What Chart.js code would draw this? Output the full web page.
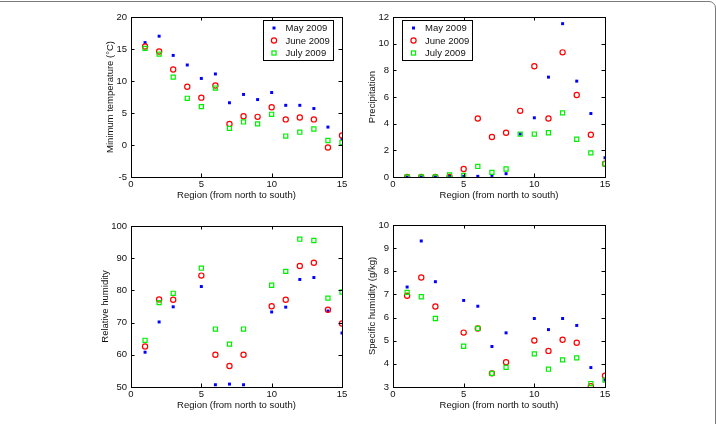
<!DOCTYPE html>
<html>
<head>
<meta charset="utf-8">
<script src="https://cdn.jsdelivr.net/npm/chart.js@4.4.1/dist/chart.umd.min.js"></script>
<style>
  html, body { margin: 0; padding: 0; background: #fff; }
  body { width: 716px; height: 424px; position: relative; overflow: hidden; }
  .frame { position: absolute; left: -20px; top: 1px; width: 736px; height: 500px;
           box-sizing: border-box; border: 1px solid #7a7a7a; border-top-right-radius: 7px; }
  canvas { position: absolute; }
</style>
</head>
<body>
<div class="frame"></div>
<canvas id="c1"></canvas>
<canvas id="c2"></canvas>
<canvas id="c3"></canvas>
<canvas id="c4"></canvas>
<script>
// region index, north to south
const regions = [1, 2, 3, 4, 5, 6, 7, 8, 9, 10, 11, 12, 13, 14, 15];
const seriesNames = ["May 2009", "June 2009", "July 2009"];

// minimum temperature (°C)
const tempMay  = [16.0, 17.0, 14.0, 12.5, 10.4, 11.1, 6.6, 7.9, 7.1, 8.2, 6.2, 6.2, 5.7, 2.8, 0.9];
const tempJune = [15.4, 14.6, 11.8, 9.1, 7.4, 9.3, 3.3, 4.5, 4.4, 5.9, 4.0, 4.3, 4.0, -0.4, 1.5];
const tempJuly = [15.1, 14.2, 10.6, 7.3, 6.0, 8.9, 2.6, 3.6, 3.3, 4.8, 1.4, 2.0, 2.5, 0.7, 0.4];

// precipitation
const precipMay  = [0, 0, 0, 0.05, 0.05, 0.05, 0.12, 0.25, 3.22, 4.44, 7.49, 11.5, 7.19, 4.76, 1.44];
const precipJune = [0, 0, 0, 0, 0.6, 4.39, 3.0, 3.32, 4.96, 8.31, 4.39, 9.35, 6.15, 3.17, 0.99];
const precipJuly = [0, 0, 0, 0.15, 0.12, 0.79, 0.35, 0.6, 3.22, 3.22, 3.32, 4.81, 2.83, 1.81, 0.99];

// relative humidity (regions 4 and 9 missing)
const rhMay  = [60.8, 70.2, 74.9, null, 81.2, 50.7, 50.9, 50.7, null, 73.3, 74.8, 83.4, 84.0, 73.6, 66.8];
const rhJune = [62.6, 77.2, 77.1, null, 84.6, 60.0, 56.5, 60.0, null, 75.1, 77.1, 87.6, 88.6, 74.0, 69.7];
const rhJuly = [64.5, 76.2, 79.1, null, 86.9, 68.0, 63.3, 68.0, null, 81.6, 85.9, 95.9, 95.5, 77.6, 79.5];

// specific humidity (g/kg)
const shMay  = [7.32, 9.31, 7.55, null, 6.74, 6.49, 4.75, 5.34, null, 5.96, 5.48, 5.96, 5.66, 3.84, 3.30];
const shJune = [6.94, 7.73, 6.48, null, 5.35, 5.53, 3.59, 4.07, null, 5.01, 4.56, 5.04, 4.91, 3.03, 3.49];
const shJuly = [7.09, 6.90, 5.96, null, 4.76, 5.53, 3.59, 3.85, null, 4.43, 3.77, 4.17, 4.26, 3.15, 3.30];

const xTicks = [0, 5, 10, 15];

Chart.defaults.font.family = '"Liberation Sans", Arial, Helvetica, sans-serif';
Chart.defaults.font.size = 9.5;
Chart.defaults.color = '#111';

const styles = [
  { pointStyle: 'rect', pointRadius: 2.1, backgroundColor: '#0000ff', borderColor: '#0000ff', borderWidth: 0 },
  { pointStyle: 'circle', pointRadius: 2.6, backgroundColor: 'rgba(0,0,0,0)', borderColor: '#ff0000', borderWidth: 1.2 },
  { pointStyle: 'rect', pointRadius: 2.9, backgroundColor: 'rgba(0,0,0,0)', borderColor: '#00ee00', borderWidth: 1.2 }
];

function points(vals) {
  return regions.map((r, i) => ({ x: r, y: vals[i] })).filter(p => p.y !== null);
}

// box around plot area + inward ticks on all four sides
const boxPlugin = {
  id: 'box',
  afterDatasetsDraw(chart) {
    const { ctx, chartArea: a, scales } = chart;
    ctx.save();
    ctx.strokeStyle = '#000';
    ctx.lineWidth = 1;
    ctx.strokeRect(Math.round(a.left) + 0.5, Math.round(a.top) + 0.5,
                   Math.round(a.right - a.left), Math.round(a.bottom - a.top));
    ctx.beginPath();
    const len = 3.5;
    scales.x.ticks.forEach(t => {
      const px = Math.round(scales.x.getPixelForValue(t.value)) + 0.5;
      ctx.moveTo(px, a.bottom); ctx.lineTo(px, a.bottom - len);
      ctx.moveTo(px, a.top); ctx.lineTo(px, a.top + len);
    });
    scales.y.ticks.forEach(t => {
      const py = Math.round(scales.y.getPixelForValue(t.value)) + 0.5;
      ctx.moveTo(a.left, py); ctx.lineTo(a.left + len, py);
      ctx.moveTo(a.right, py); ctx.lineTo(a.right - len, py);
    });
    ctx.stroke();
    ctx.restore();
  }
};

// boxed legend inside the plot area
const insideLegend = {
  id: 'insideLegend',
  afterDraw(chart, args, opts) {
    if (!opts.corner) return;
    const { ctx, chartArea: a } = chart;
    const w = 70, h = 40;
    const left = opts.corner === 'ne' ? a.right - 9.5 - w : a.left + 9;
    const top = a.top + 3;
    ctx.save();
    ctx.fillStyle = '#fff';
    ctx.fillRect(left, top, w, h);
    ctx.strokeStyle = '#000';
    ctx.lineWidth = 1;
    ctx.strokeRect(Math.round(left) + 0.5, Math.round(top) + 0.5, w, h);
    ctx.font = '9.5px "Liberation Sans", Arial, sans-serif';
    ctx.textBaseline = 'middle';
    ctx.fillStyle = '#111';
    chart.data.datasets.forEach((ds, i) => {
      const y = top + 8 + i * 12.5;
      const mx = left + 11.5;
      const r = ds.pointRadius;
      ctx.lineWidth = ds.borderWidth;
      if (ds.pointStyle === 'circle') {
        ctx.strokeStyle = ds.borderColor;
        ctx.beginPath(); ctx.arc(mx, y, r, 0, Math.PI * 2); ctx.stroke();
      } else if (ds.borderWidth === 0) {
        const s = r * Math.SQRT1_2;
        ctx.fillStyle = ds.backgroundColor;
        ctx.fillRect(mx - s, y - s, 2 * s, 2 * s);
      } else {
        const s = r * Math.SQRT1_2;
        ctx.strokeStyle = ds.borderColor;
        ctx.strokeRect(mx - s, y - s, 2 * s, 2 * s);
      }
      ctx.fillStyle = '#111';
      ctx.fillText(ds.label, left + 23, y + 0.5);
    });
    ctx.restore();
  }
};

function makePanel(id, place, area, yTitle, yMin, yMax, yStep, series, legendCorner) {
  const canvas = document.getElementById(id);
  canvas.width = area.r + 20 - place.x;
  canvas.height = area.b + 24 - place.y;
  canvas.style.left = place.x + 'px';
  canvas.style.top = place.y + 'px';

  new Chart(canvas, {
    type: 'scatter',
    data: {
      datasets: series.map((vals, i) => Object.assign({
        label: seriesNames[i],
        data: points(vals),
        order: 3 - i
      }, styles[i]))
    },
    options: {
      responsive: false,
      animation: false,
      layout: { padding: { left: 0, top: area.t - place.y, right: 20, bottom: 0 } },
      plugins: {
        legend: { display: false },
        tooltip: { enabled: false },
        insideLegend: { corner: legendCorner }
      },
      scales: {
        x: {
          type: 'linear', min: 0, max: 15,
          afterBuildTicks: s => { s.ticks = xTicks.map(v => ({ value: v })); },
          grid: { display: false, drawTicks: false },
          border: { display: false },
          ticks: { padding: 2, color: '#111' },
          title: { display: true, text: 'Region (from north to south)', padding: 0, color: '#111' },
          afterFit: s => { s.height = 24; }
        },
        y: {
          min: yMin, max: yMax,
          grid: { display: false, drawTicks: false },
          border: { display: false },
          ticks: { stepSize: yStep, padding: 4, color: '#111' },
          title: { display: true, text: yTitle, padding: { top: 4, bottom: 0 }, color: '#111' },
          afterFit: s => { s.width = area.l - place.x; }
        }
      }
    },
    plugins: [boxPlugin, insideLegend]
  });
}

makePanel('c1', { x: 101, y: 0 }, { l: 131, r: 342, t: 17, b: 177 },
  'Minimum temperature (°C)', -5, 20, 5, [tempMay, tempJune, tempJuly], 'ne');
makePanel('c2', { x: 363, y: 0 }, { l: 393, r: 605, t: 17, b: 177 },
  'Precipitation', 0, 12, 2, [precipMay, precipJune, precipJuly], 'nw');
makePanel('c3', { x: 96, y: 212 }, { l: 131, r: 342, t: 226, b: 387 },
  'Relative humidity', 50, 100, 10, [rhMay, rhJune, rhJuly], null);
makePanel('c4', { x: 363, y: 212 }, { l: 393, r: 605, t: 225, b: 387 },
  'Specific humidity (g/kg)', 3, 10, 1, [shMay, shJune, shJuly], null);
</script>
</body>
</html>
